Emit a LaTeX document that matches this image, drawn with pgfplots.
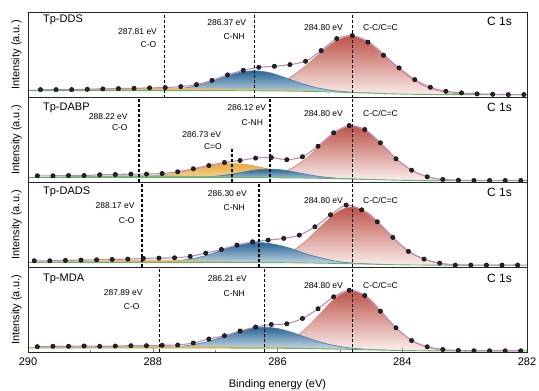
\documentclass[border=0pt]{standalone}
\usepackage{fontspec}
\setmainfont{Liberation Sans}
\usepackage{pgfplots}
\usepackage{pgfplotstable}
\pgfplotsset{compat=1.18}

\definecolor{redtop}{RGB}{188,84,74}
\definecolor{redbot}{RGB}{253,243,241}
\definecolor{redline}{RGB}{222,128,108}
\definecolor{bluetop}{RGB}{40,100,148}
\definecolor{bluebot}{RGB}{222,234,242}
\definecolor{blueline}{RGB}{72,128,172}
\definecolor{orgtop}{RGB}{232,168,62}
\definecolor{orgbot}{RGB}{250,226,175}
\definecolor{orgline}{RGB}{228,170,80}
\definecolor{coband}{RGB}{236,186,100}
\definecolor{greenband}{RGB}{128,190,120}
\definecolor{bgline}{RGB}{104,178,112}
\definecolor{envline}{RGB}{186,140,190}

\newcommand{\annf}{\fontsize{8.5}{10}\selectfont}
\newcommand{\tpf}{\fontsize{11}{13}\selectfont}
\newcommand{\csf}{\fontsize{12}{14}\selectfont}
\newcommand{\labf}{\fontsize{11}{13}\selectfont}

\tikzset{ann/.style={inner sep=0pt, font=\annf}}

\pgfplotstableread{
x y
282.05 3.0
282.30 3.0
282.55 3.3
282.80 3.7
283.05 4.7
283.30 6.3
283.55 10.3
283.80 18.0
284.05 29.7
284.30 42.3
284.55 55.5
284.80 62.0
285.05 59.0
285.30 47.0
285.55 36.3
285.80 33.0
286.05 31.3
286.30 30.3
286.55 27.3
286.80 22.7
287.05 17.3
287.30 13.0
287.55 11.0
287.80 10.0
288.05 9.7
288.30 9.3
288.55 9.0
288.80 8.7
289.05 8.3
289.30 8.0
289.55 8.0
289.80 8.0
}\dA

\pgfplotstableread{
x y
282.10 2.0
282.35 2.0
282.60 2.0
282.85 2.0
283.10 2.3
283.35 3.0
283.60 5.7
283.85 12.3
284.10 23.7
284.35 39.7
284.60 53.0
284.85 57.0
285.10 49.7
285.35 36.3
285.60 25.7
285.85 22.8
286.10 25.0
286.35 24.4
286.60 22.0
286.85 20.0
287.10 17.0
287.35 13.7
287.60 10.7
287.85 9.0
288.10 8.4
288.35 8.4
288.60 8.0
288.85 7.7
289.10 7.0
289.35 7.0
289.60 6.7
289.85 6.7
}\dB

\pgfplotstableread{
x y
282.15 2.3
282.40 2.3
282.65 2.3
282.90 2.3
283.15 2.3
283.40 4.3
283.65 8.3
283.90 16.0
284.15 30.0
284.40 45.6
284.65 57.6
284.90 62.3
285.15 52.6
285.40 40.6
285.65 32.3
285.90 29.0
286.15 27.3
286.40 25.6
286.65 22.3
286.90 18.0
287.15 14.3
287.40 11.0
287.65 9.6
287.90 9.3
288.15 9.0
288.40 8.3
288.65 8.0
288.90 7.6
289.15 7.3
289.40 7.0
289.65 6.6
289.90 6.6
}\dC

\pgfplotstableread{
x y
282.10 1.5
282.35 1.5
282.60 1.5
282.85 1.5
283.10 1.8
283.35 2.8
283.60 5.5
283.85 11.8
284.10 24.5
284.35 41.1
284.60 56.8
284.85 62.1
285.10 55.5
285.35 43.5
285.60 33.8
285.85 28.5
286.10 27.8
286.35 25.3
286.60 21.3
286.85 16.6
287.10 13.3
287.35 9.3
287.60 7.3
287.85 7.0
288.10 6.6
288.35 6.6
288.60 6.3
288.85 6.0
289.10 6.3
289.35 6.0
289.60 6.0
289.85 5.6
}\dD

\pgfplotsset{
  panel/.style={scale only axis, width=499pt, height=84.9pt,
    xmin=282, xmax=290, x dir=reverse, ymin=0, ymax=84.9,
    ytick=\empty, xtick=\empty, axis on top, clip mode=individual,
    axis line style={line width=0.8pt, black!85}, anchor=south west},
  redc/.style={draw=redline, line width=0.7pt, smooth, top color=redtop, bottom color=redbot},
  bluec/.style={draw=blueline, line width=0.7pt, smooth, top color=bluetop, bottom color=bluebot},
  orgc/.style={draw=orgline, line width=0.7pt, smooth, top color=orgtop, bottom color=orgbot},
  band/.style={draw=none, smooth, fill=#1},
  bgfill/.style={draw=none, smooth, fill=white},
  bgl/.style={bgline, line width=0.9pt, smooth},
  env/.style={envline, line width=1.1pt, smooth, tension=0.45},
  dots/.style={only marks, mark=*, mark size=2.2pt, mark options={fill=black!85, draw=black}},
  dl/.style={black, line width=1.5pt, dash pattern=on 3pt off 2pt},
}

\begin{document}
\begin{tikzpicture}
\useasboundingbox (-28pt,-38.7pt) rectangle (511pt,352.3pt);

% ---------------- Panel 1: Tp-DDS
\begin{axis}[panel, at={(0pt,254.7pt)}]
\addplot[redc] coordinates {(282.05,3.0)(282.30,3.0)(282.55,3.0)(282.80,3.19)(283.05,3.71)(283.30,5.27)(283.55,9.18)(283.80,16.78)(284.05,28.86)(284.30,43.5)(284.55,56.22)(284.80,61.5)(285.05,57.18)(285.30,45.42)(285.55,31.58)(285.80,20.02)(286.05,12.74)(286.30,9.07)(286.55,7.59)(286.80,7.11)(287.05,7.0)(287.30,7.0)} \closedcycle;
\addplot[bluec] coordinates {(284.37,4.1)(284.62,4.77)(284.87,5.61)(285.12,7.11)(285.37,9.84)(285.62,14.22)(285.87,19.8)(286.12,24.76)(286.37,26.82)(286.62,24.92)(286.87,20.16)(287.12,14.86)(287.37,10.82)(287.62,8.51)(287.87,7.49)(288.12,7.13)(288.37,7.0)} \closedcycle;
\addplot[band=coband] coordinates {(290,7.82)(289.5,8.29)(289,8.8)(288.5,9.24)(288,9.48)(287.5,9.44)(287,9.09)(286.5,8.54)(286,7.83)(285.5,6.92)(285,5.8)(284.5,4.62)(284,3.59)(283.5,3.11)(283,3.01)(282.5,3.0)(282,3.0)} \closedcycle;
\addplot[bgfill] coordinates {(290,7)(287.5,7)(287,6.94)(286.5,6.86)(286,6.66)(285.5,6.2)(285,5.4)(284.8,5.0)(284.5,4.42)(284,3.5)(283.5,3.08)(283,3.0)(282,3.0)} \closedcycle;
\addplot[bgl] coordinates {(290,7)(287.5,7)(287,6.94)(286.5,6.86)(286,6.66)(285.5,6.2)(285,5.4)(284.8,5.0)(284.5,4.42)(284,3.5)(283.5,3.08)(283,3.0)(282,3.0)};
\addplot[env] table {\dA};
\addplot[dl] coordinates {(287.81,0)(287.81,84.9)};
\addplot[dl] coordinates {(286.37,0)(286.37,84.9)};
\addplot[dl] coordinates {(284.80,0)(284.80,84.9)};
\addplot[dots] table {\dA};
\node[anchor=west,inner sep=0pt,font=\tpf] at (axis cs:289.76,77.3) {Tp-DDS};
\node[anchor=east,inner sep=0pt,font=\csf] at (axis cs:282.24,76.3) {C 1s};
\node[ann,anchor=east] at (axis cs:287.93,66.3) {287.81 eV};
\node[ann,anchor=east] at (axis cs:287.94,53.0) {C-O};
\node[ann,anchor=east] at (axis cs:286.50,75.3) {286.37 eV};
\node[ann,anchor=east] at (axis cs:286.52,60.7) {C-NH};
\node[ann,anchor=east] at (axis cs:284.95,69.7) {284.80 eV};
\node[ann,anchor=west] at (axis cs:284.63,69.7) {C-C/C=C};
\node[rotate=90,font=\labf] at (axis cs:290.183,42.45) {Intensity (a.u.)};
\end{axis}

% ---------------- Panel 2: Tp-DABP
\begin{axis}[panel, at={(0pt,169.8pt)}]
\addplot[redc] coordinates {(282.10,1.8)(282.55,1.8)(282.80,1.8)(283.05,2.0)(283.30,2.69)(283.55,5.0)(283.80,10.62)(284.05,21.35)(284.30,36.2)(284.55,50.32)(284.80,56.4)(285.05,51.08)(285.30,37.74)(285.55,23.52)(285.80,13.22)(286.05,7.84)(286.30,5.73)(286.55,5.1)(286.80,4.95)(287.05,5.0)} \closedcycle;
\addplot[orgc] coordinates {(284.73,3.34)(284.98,3.87)(285.23,4.66)(285.48,5.94)(285.73,8.07)(285.98,11.12)(286.23,14.72)(286.48,17.73)(286.73,18.93)(286.98,17.79)(287.23,14.88)(287.48,11.41)(287.73,8.49)(287.98,6.6)(288.23,5.62)(288.48,5.2)(288.73,5.0)} \closedcycle;
\addplot[bluec] coordinates {(284.37,2.66)(284.62,3.14)(284.87,3.68)(285.12,4.62)(285.37,6.39)(285.62,9.15)(285.87,12.11)(286.12,13.35)(286.37,12.32)(286.62,9.59)(286.87,7.11)(287.12,5.68)(287.37,5.18)(287.62,5.03)(287.87,5.0)} \closedcycle;
\addplot[band=greenband] coordinates {(290,5.45)(289.5,5.97)(289,6.62)(288.5,7.12)(288,7.15)(287.5,6.7)(287,6.05)(286.5,5.39)(286,4.9)(285.5,4.42)(285,3.73)(284.5,2.94)(284,2.2)(283.5,1.86)(283,1.8)(282,1.8)} \closedcycle;
\addplot[bgfill] coordinates {(290,5)(287,5)(286.5,4.89)(286,4.71)(285.5,4.36)(285,3.72)(284.8,3.4)(284.5,2.94)(284,2.2)(283.5,1.86)(283,1.8)(282,1.8)} \closedcycle;
\addplot[bgl] coordinates {(290,5)(287,5)(286.5,4.89)(286,4.71)(285.5,4.36)(285,3.72)(284.8,3.4)(284.5,2.94)(284,2.2)(283.5,1.86)(283,1.8)(282,1.8)};
\addplot[env] table {\dB};
\addplot[dl] coordinates {(288.22,0)(288.22,84.9)};
\addplot[dl] coordinates {(286.12,0)(286.12,84.9)};
\addplot[dl] coordinates {(286.73,0)(286.73,35)};
\addplot[dl] coordinates {(284.80,0)(284.80,84.9)};
\addplot[dots] table {\dB};
\node[anchor=west,inner sep=0pt,font=\tpf] at (axis cs:289.76,74.7) {Tp-DABP};
\node[anchor=east,inner sep=0pt,font=\csf] at (axis cs:282.24,74.7) {C 1s};
\node[ann,anchor=east] at (axis cs:288.40,66.3) {288.22 eV};
\node[ann,anchor=east] at (axis cs:288.40,54.7) {C-O};
\node[ann,anchor=east] at (axis cs:286.18,74.7) {286.12 eV};
\node[ann,anchor=east] at (axis cs:286.23,59.7) {C-NH};
\node[ann,anchor=east] at (axis cs:286.90,48.0) {286.73 eV};
\node[ann,anchor=east] at (axis cs:286.89,35.7) {C=O};
\node[ann,anchor=east] at (axis cs:284.95,68.7) {284.80 eV};
\node[ann,anchor=west] at (axis cs:284.63,68.7) {C-C/C=C};
\node[rotate=90,font=\labf] at (axis cs:290.183,42.45) {Intensity (a.u.)};
\end{axis}

% ---------------- Panel 3: Tp-DADS
\begin{axis}[panel, at={(0pt,84.9pt)}]
\addplot[redc] coordinates {(282.15,2.2)(282.55,2.2)(282.80,2.2)(283.05,2.49)(283.30,3.38)(283.55,6.13)(283.80,12.55)(284.05,24.19)(284.30,39.95)(284.55,54.46)(284.80,60.6)(285.05,55.14)(285.30,41.29)(285.55,26.1)(285.80,14.81)(286.05,8.63)(286.30,6.04)(286.55,5.21)(286.80,4.95)(287.05,5.0)} \closedcycle;
\addplot[bluec] coordinates {(284.30,2.9)(284.55,3.49)(284.80,4.37)(285.05,6.05)(285.30,9.49)(285.55,13.68)(285.80,19.19)(286.05,23.09)(286.30,24.86)(286.55,23.09)(286.80,19.47)(287.05,13.68)(287.30,9.49)(287.55,7.11)(287.80,5.77)(288.05,5.23)(288.30,5.0)} \closedcycle;
\addplot[band=coband] coordinates {(290,5.47)(289.5,6.03)(289,6.77)(288.5,7.37)(288,7.46)(287.5,7.0)(287,6.22)(286.5,5.52)(286,5.0)(285.5,4.51)(285,3.9)(284.5,3.19)(284,2.55)(283.5,2.26)(283,2.2)(282,2.2)} \closedcycle;
\addplot[bgfill] coordinates {(290,5)(287,4.96)(286.5,4.9)(286,4.76)(285.5,4.44)(285,3.88)(284.8,3.6)(284.5,3.19)(284,2.55)(283.5,2.26)(283,2.2)(282,2.2)} \closedcycle;
\addplot[bgl] coordinates {(290,5)(287,4.96)(286.5,4.9)(286,4.76)(285.5,4.44)(285,3.88)(284.8,3.6)(284.5,3.19)(284,2.55)(283.5,2.26)(283,2.2)(282,2.2)};
\addplot[env] table {\dC};
\addplot[dl] coordinates {(288.17,0)(288.17,84.9)};
\addplot[dl] coordinates {(286.30,0)(286.30,84.9)};
\addplot[dl] coordinates {(284.80,0)(284.80,84.9)};
\addplot[dots] table {\dC};
\node[anchor=west,inner sep=0pt,font=\tpf] at (axis cs:289.76,75.3) {Tp-DADS};
\node[anchor=east,inner sep=0pt,font=\csf] at (axis cs:282.24,74.7) {C 1s};
\node[ann,anchor=east] at (axis cs:288.29,62.0) {288.17 eV};
\node[ann,anchor=east] at (axis cs:288.29,47.3) {C-O};
\node[ann,anchor=east] at (axis cs:286.49,74.0) {286.30 eV};
\node[ann,anchor=east] at (axis cs:286.52,59.7) {C-NH};
\node[ann,anchor=east] at (axis cs:284.95,67.3) {284.80 eV};
\node[ann,anchor=west] at (axis cs:284.63,67.3) {C-C/C=C};
\node[rotate=90,font=\labf] at (axis cs:290.183,42.45) {Intensity (a.u.)};
\end{axis}

% ---------------- Panel 4: Tp-MDA
\begin{axis}[panel, at={(0pt,0pt)},
  xtick={282,284,286,288,290}, minor x tick num=1, tick align=inside,
  xtick pos=bottom, major tick length=4pt, minor tick length=2.5pt,
  /pgf/number format/assume math mode=true,
  xticklabel style={font=\labf, yshift=-2pt}]
\addplot[redc] coordinates {(282.10,1.4)(282.55,1.4)(282.80,1.4)(283.05,1.55)(283.30,2.11)(283.55,4.25)(283.80,9.9)(284.05,21.4)(284.30,38.27)(284.55,54.7)(284.80,61.85)(285.05,55.4)(285.30,39.66)(285.55,23.37)(285.80,12.25)(286.05,6.83)(286.30,4.87)(286.55,4.36)(286.80,4.25)(287.05,4.3)} \closedcycle;
\addplot[bluec] coordinates {(284.21,2.1)(284.46,2.63)(284.71,3.56)(284.96,5.33)(285.21,8.43)(285.46,13.08)(285.71,18.61)(285.96,23.25)(286.21,25.13)(286.46,23.4)(286.71,18.93)(286.96,13.66)(287.21,9.33)(287.46,6.55)(287.71,5.14)(287.96,4.56)(288.21,4.3)} \closedcycle;
\addplot[band=coband] coordinates {(290,5.25)(289.5,5.6)(289,5.93)(288.5,6.18)(288,6.3)(287.5,6.25)(287,6.03)(286.5,5.65)(286,5.15)(285.5,4.49)(285,3.64)(284.5,2.72)(284,1.92)(283.5,1.54)(283,1.44)(282.5,1.41)(282,1.4)} \closedcycle;
\addplot[bgfill] coordinates {(290,4.3)(287.5,4.3)(287,4.28)(286.5,4.2)(286,4.05)(285.5,3.72)(285,3.14)(284.8,2.85)(284.5,2.43)(284,1.76)(283.5,1.46)(283,1.4)(282,1.4)} \closedcycle;
\addplot[bgl] coordinates {(290,4.3)(287.5,4.3)(287,4.28)(286.5,4.2)(286,4.05)(285.5,3.72)(285,3.14)(284.8,2.85)(284.5,2.43)(284,1.76)(283.5,1.46)(283,1.4)(282,1.4)};
\addplot[env] table {\dD};
\addplot[dl] coordinates {(287.89,0)(287.89,84.9)};
\addplot[dl] coordinates {(286.21,0)(286.21,84.9)};
\addplot[dl] coordinates {(284.80,0)(284.80,84.9)};
\addplot[dots] table {\dD};
\node[anchor=west,inner sep=0pt,font=\tpf] at (axis cs:289.76,73.3) {Tp-MDA};
\node[anchor=east,inner sep=0pt,font=\csf] at (axis cs:282.24,74.0) {C 1s};
\node[ann,anchor=east] at (axis cs:288.16,60.0) {287.89 eV};
\node[ann,anchor=east] at (axis cs:288.21,45.6) {C-O};
\node[ann,anchor=east] at (axis cs:286.49,73.3) {286.21 eV};
\node[ann,anchor=east] at (axis cs:286.52,59.0) {C-NH};
\node[ann,anchor=east] at (axis cs:284.95,66.6) {284.80 eV};
\node[ann,anchor=west] at (axis cs:284.63,66.6) {C-C/C=C};
\node[rotate=90,font=\labf] at (axis cs:290.183,42.45) {Intensity (a.u.)};
\node[font=\labf] at (axis cs:286,-32) {Binding energy (eV)};
\end{axis}
\end{tikzpicture}
\end{document}
